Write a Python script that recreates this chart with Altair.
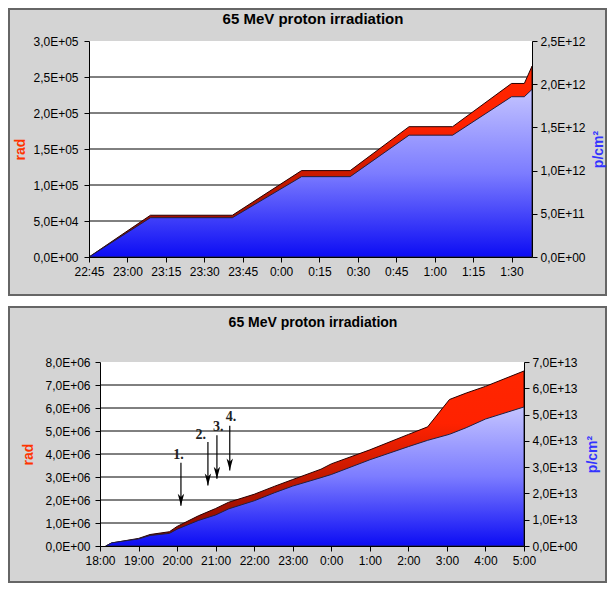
import altair as alt
import pandas as pd

TITLE = "65 MeV proton irradiation"
RAD_TITLE = "rad"
FLU_TITLE = "p/cm²"

# ---------------- top panel data ----------------
top_time = ["22:45", "23:09", "23:41", "0:08", "0:27", "0:50", "1:07", "1:30", "1:35", "1:38"]
top_rad = [0, 58000, 58000, 120000, 120000, 181000, 181000, 241000, 241000, 265000]
top_flu = [0, 0.455e12, 0.455e12, 0.93e12, 0.93e12, 1.41e12, 1.41e12, 1.855e12, 1.855e12, 1.94e12]
top_xticks = ["22:45", "23:00", "23:15", "23:30", "23:45", "0:00", "0:15",
              "0:30", "0:45", "1:00", "1:15", "1:30"]
top_xend = "1:38"
top_rad_ticks = [0, 50000, 100000, 150000, 200000, 250000, 300000]
top_flu_ticks = [0, 5e11, 1e12, 1.5e12, 2e12, 2.5e12]

# ---------------- bottom panel data ----------------
bot_time = ["18:09", "18:18", "19:00", "19:18", "19:48", "20:00", "20:33", "21:00",
            "21:20", "22:00", "22:32", "23:00", "23:44", "0:00", "1:00", "2:00",
            "2:30", "3:04", "3:30", "4:00", "5:00"]
bot_rad = [0, 0.13e6, 0.33e6, 0.5e6, 0.62e6, 0.85e6, 1.31e6, 1.63e6,
           1.9e6, 2.25e6, 2.6e6, 2.89e6, 3.34e6, 3.57e6, 4.18e6, 4.85e6,
           5.18e6, 6.37e6, 6.65e6, 6.94e6, 7.61e6]
bot_flu = [0, 0.12e13, 0.27e13, 0.4e13, 0.48e13, 0.64e13, 0.97e13, 1.18e13,
           1.41e13, 1.72e13, 2.03e13, 2.28e13, 2.6e13, 2.72e13, 3.28e13, 3.78e13,
           4.02e13, 4.25e13, 4.5e13, 4.83e13, 5.29e13]
bot_xticks = ["18:00", "19:00", "20:00", "21:00", "22:00", "23:00", "0:00",
              "1:00", "2:00", "3:00", "4:00", "5:00"]
bot_xend = "5:00"
bot_rad_ticks = [0, 1e6, 2e6, 3e6, 4e6, 5e6, 6e6, 7e6, 8e6]
bot_flu_ticks = [0, 1e13, 2e13, 3e13, 4e13, 5e13, 6e13, 7e13]

arrow_label = ["1.", "2.", "3.", "4."]
arrow_time = ["20:06", "20:48", "21:02", "21:22"]
arrow_tail = [3.62e6, 4.52e6, 4.81e6, 5.23e6]
arrow_tip = [1.75e6, 2.63e6, 2.92e6, 3.28e6]
label_time = ["20:02", "20:37", "21:04", "21:24"]
label_y = [3.95e6, 4.81e6, 5.16e6, 5.62e6]

# ---------------- styling ----------------
GRAY = "#d4d4d4"
BORDER = "#666666"
FONT = "Liberation Sans"
RED_T = "#ff3300"
BLUE_T = "#3333ff"

RED_FILL = alt.Gradient(
    gradient="linear", x1=0, x2=0, y1=1, y2=0,
    stops=[alt.GradientStop(color="#800800", offset=0),
           alt.GradientStop(color="#b01400", offset=0.3),
           alt.GradientStop(color="#d81c00", offset=0.5),
           alt.GradientStop(color="#ff2200", offset=0.7),
           alt.GradientStop(color="#ff2600", offset=1)])
BLUE_FILL = alt.Gradient(
    gradient="linear", x1=0, x2=0, y1=1, y2=0,
    stops=[alt.GradientStop(color="#0c0cf4", offset=0),
           alt.GradientStop(color="#7c7cff", offset=0.5),
           alt.GradientStop(color="#c4c4ff", offset=1)])

SCI = ("slice(format(datum.value,'.1e'),0,1) + ',' + slice(format(datum.value,'.1e'),2,3)"
       " + 'E+' + pad(slice(format(datum.value,'.1e'),5), 2, '0', 'left')")


def hm(t):
    h, m = t.split(":")
    return int(h) * 60 + int(m)


def to_min(t, start):
    v, s = hm(t), hm(start)
    if v < s:
        v += 1440
    return v - s


def clock_expr(s):
    return (f"floor((({s} + datum.value) % 1440) / 60) + ':' + "
            f"pad(((({s} + datum.value) % 60)) + '', 2, '0', 'left')")


AX = dict(labelFont=FONT, labelFontSize=12, labelColor="black", tickColor="black",
          domainColor="black", tickSize=5, grid=False, zindex=1, labelOverlap=False,
          labelFlush=False, titleFont=FONT, titleFontSize=14, titleFontWeight="bold")


def panel(times, rad, flu, xticks, xend, rad_ticks, flu_ticks, W, H, shift, box,
          title_xy, title_size, rad_pad, flu_pad, lab_pad, extra=None):
    # the plot area spans x = -shift .. W inside the view
    start = xticks[0]
    df = pd.DataFrame({"m": [to_min(t, start) for t in times], "rad": rad, "flu": flu})
    xenc = alt.X("m:Q",
                 scale=alt.Scale(domain=[0, to_min(xend, start)], range=[-shift, W],
                                 nice=False, zero=False),
                 axis=alt.Axis(values=[to_min(t, start) for t in xticks],
                               labelExpr=clock_expr(hm(start)), title=None,
                               labelPadding=4, **AX))
    one = pd.DataFrame({"t": [TITLE]})
    gray = alt.Chart(one).mark_rect(fill=GRAY, stroke=BORDER, strokeWidth=2).encode(
        x=alt.value(box[0]), x2=alt.value(box[1]), y=alt.value(box[2]), y2=alt.value(box[3]))
    white = alt.Chart(one).mark_rect(fill="white").encode(
        x=alt.value(-shift), x2=alt.value(W), y=alt.value(0), y2=alt.value(H))
    rad_scale = alt.Scale(domain=[rad_ticks[0], rad_ticks[-1]], nice=False)
    grid = alt.Chart(pd.DataFrame({"g": rad_ticks[1:-1]})).mark_rule(
        color="black", strokeWidth=1).encode(
        y=alt.Y("g:Q", scale=rad_scale, axis=None),
        x=alt.value(-shift), x2=alt.value(W))
    red = alt.Chart(df).mark_area(fill=RED_FILL, stroke="#2a0000", strokeWidth=1).encode(
        x=xenc,
        y=alt.Y("rad:Q", scale=rad_scale,
                axis=alt.Axis(orient="left", values=rad_ticks, labelExpr=SCI,
                              title=RAD_TITLE, titleColor=RED_T, titleAngle=270,
                              titleBaseline="bottom", titlePadding=rad_pad,
                              labelPadding=lab_pad, offset=shift, **AX)))
    blue = alt.Chart(df).mark_area(fill=BLUE_FILL, stroke="#202040", strokeWidth=1).encode(
        x=xenc,
        y=alt.Y("flu:Q", scale=alt.Scale(domain=[flu_ticks[0], flu_ticks[-1]], nice=False),
                axis=alt.Axis(orient="right", values=flu_ticks, labelExpr=SCI,
                              title=FLU_TITLE, titleColor=BLUE_T, titleAngle=270,
                              titleBaseline="top", titlePadding=flu_pad,
                              labelPadding=3, **AX)))
    title = alt.Chart(one).mark_text(font=FONT, fontSize=title_size, fontWeight="bold",
                                     color="black", align="center", baseline="middle").encode(
        x=alt.value(title_xy[0]), y=alt.value(title_xy[1]), text="t:N")
    layers = [gray, white, grid, red, blue] + (extra(xenc, start) if extra else []) + [title]
    return alt.layer(*layers).resolve_scale(y="independent").properties(width=W, height=H)


def arrows(xenc, start):
    adf = pd.DataFrame({"m": [to_min(t, start) for t in arrow_time],
                        "tail": arrow_tail, "tip": arrow_tip})
    ldf = pd.DataFrame({"m": [to_min(t, start) for t in label_time],
                        "ly": label_y, "lab": arrow_label})
    sc = alt.Scale(domain=[bot_rad_ticks[0], bot_rad_ticks[-1]], nice=False)
    shaft = alt.Chart(adf).mark_rule(color="black", strokeWidth=1.2).encode(
        x=xenc, y=alt.Y("tail:Q", scale=sc, axis=None), y2="tip:Q")
    head = alt.Chart(adf).mark_point(shape="M-0.8,-3L0,-2.2L0.8,-3L0,0Z", size=64, filled=True,
                                     color="black", opacity=1).encode(
        x=xenc, y=alt.Y("tip:Q", scale=sc, axis=None))
    labs = alt.Chart(ldf).mark_text(font="Liberation Serif", fontSize=14, fontWeight="bold",
                                    color="#222222", align="center", baseline="middle").encode(
        x=xenc, y=alt.Y("ly:Q", scale=sc, axis=None), text="lab:N")
    return [shaft, head, labs]


# both views start at the same x (100 px on the page); the top plot reaches 11 px further left
top = panel(top_time, top_rad, top_flu, top_xticks, top_xend, top_rad_ticks, top_flu_ticks,
            W=432, H=216, shift=11, box=(-91, 506, -32, 254), title_xy=(213, -22),
            title_size=15, rad_pad=5, flu_pad=6, lab_pad=6)
bottom = panel(bot_time, bot_rad, bot_flu, bot_xticks, bot_xend, bot_rad_ticks, bot_flu_ticks,
               W=424, H=184, shift=0, box=(-91, 506, -55, 220), title_xy=(213, -39),
               title_size=14, rad_pad=9, flu_pad=8, lab_pad=5, extra=arrows)

chart = alt.vconcat(top, bottom, spacing=10).properties(
    padding=0, background="white"
).configure_view(strokeWidth=0)

chart.save("out.html", embed_options={"renderer": "svg", "actions": False})
